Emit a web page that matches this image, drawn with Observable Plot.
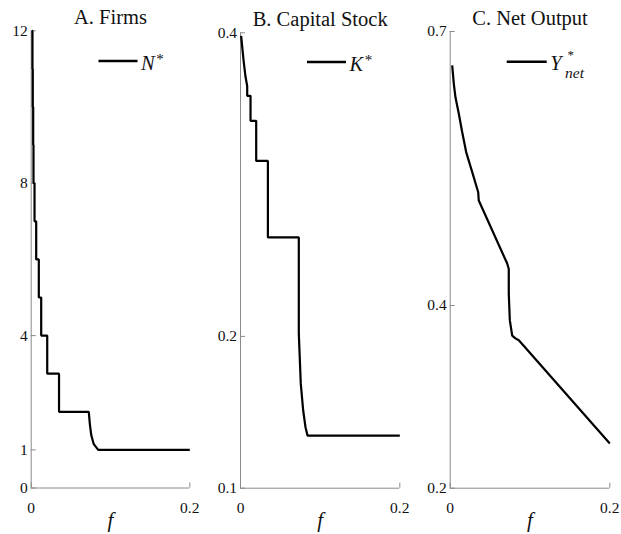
<!DOCTYPE html>
<html><head><meta charset="utf-8">
<script src="https://cdn.jsdelivr.net/npm/d3@7"></script>
<script src="https://cdn.jsdelivr.net/npm/@observablehq/plot@0.6"></script>
<style>
html,body{margin:0;padding:0;background:#fff;}
#chart{position:relative;width:621px;height:534px;overflow:hidden;background:#fff;}
#chart > svg{position:absolute;top:0;}
</style></head><body><div id="chart"></div>
<script>
// ---- data ----
const xDomain = [0, 0.2];
const xTicks = [0, 0.2];

const titles = ["A. Firms", "B. Capital Stock", "C. Net Output"];

// Panel A: firms N*
const fA = [0.0008, 0.0016, 0.0016, 0.0020, 0.0020, 0.0025, 0.0025, 0.0029, 0.0029, 0.0042, 0.0042, 0.0063, 0.0063, 0.0096, 0.0096, 0.0126, 0.0126, 0.0202, 0.0202, 0.0351, 0.0351, 0.0726, 0.0739, 0.0757, 0.0789, 0.0845, 0.2];
const nA = [12, 12, 11, 11, 10, 10, 9, 9, 8, 8, 7, 7, 6, 6, 5, 5, 4, 4, 3, 3, 2, 2, 1.69, 1.39, 1.15, 1.0, 1.0];
const yDomainA = [0, 12];
const yTicksA = [0, 1, 4, 8, 12];

// Panel B: capital stock K*
const fB = [0.0008, 0.0038, 0.0063, 0.0084, 0.0084, 0.0126, 0.0126, 0.0197, 0.0197, 0.0344, 0.0344, 0.0732, 0.0732, 0.0757, 0.0787, 0.0816, 0.0841, 0.2];
const kB = [0.398, 0.382, 0.371, 0.365, 0.3585, 0.3585, 0.342, 0.342, 0.3156, 0.3156, 0.2652, 0.2652, 0.2018, 0.1687, 0.1512, 0.1402, 0.1347, 0.1347];
const yDomainB = [0.1, 0.4];
const yTicksB = [0.1, 0.2, 0.4];

// Panel C: net output Y*_net
const fC = [0.0025, 0.0045, 0.0066, 0.0108, 0.0150, 0.0200, 0.0276, 0.0351, 0.0358, 0.0714, 0.0734, 0.0734, 0.0747, 0.0777, 0.0818, 0.0860, 0.2];
const yC = [0.663, 0.643, 0.628, 0.610, 0.590, 0.568, 0.546, 0.524, 0.515, 0.446, 0.440, 0.413, 0.384, 0.367, 0.364, 0.362, 0.249];
const yDomainC = [0.2, 0.7];
const yTicksC = [0.2, 0.4, 0.7];

// ---- font: pick an installed serif face if there is one ----
function hasFont(name) {
  const ctx = document.createElement("canvas").getContext("2d");
  const s = "AaBbCcFfmmNKY0.2 Stock Output";
  for (const base of ["monospace", "sans-serif", "serif"]) {
    ctx.font = "40px " + base;
    const w0 = ctx.measureText(s).width;
    ctx.font = `40px "${name}", ${base}`;
    if (Math.abs(ctx.measureText(s).width - w0) > 0.5) return true;
  }
  return false;
}
const serifCandidates = ["Liberation Serif", "DejaVu Serif", "Noto Serif", "Tinos", "Times New Roman", "FreeSerif", "Nimbus Roman", "Nimbus Roman No9 L", "Georgia"];
const found = serifCandidates.find(hasFont);
const FONT = found ? `"${found}", serif` : "serif";

const AXIS = "#8a8a8a";
const H = 534;
const chart = document.getElementById("chart");

function toRows(fs, vs) { return fs.map((f, i) => ({f, v: vs[i]})); }

function panel({left, width, mL, mR, mT, mB, rows, yDomain, yTicks, title}) {
  const pw = width - mL - mR, ph = H - mT - mB;
  const svg = Plot.plot({
    width, height: H,
    marginLeft: mL, marginRight: mR, marginTop: mT, marginBottom: mB,
    style: {fontFamily: FONT, fontSize: "15.5px", color: "#111", background: "transparent", overflow: "visible"},
    x: {domain: xDomain, ticks: xTicks, tickFormat: d => String(d), tickSize: 0, tickPadding: 14, label: null},
    y: {domain: yDomain, ticks: yTicks, tickFormat: d => String(d), tickSize: 0, tickPadding: 3.5, label: null},
    marks: [
      Plot.ruleX([xDomain[0]], {stroke: AXIS, strokeWidth: 1}),
      Plot.ruleY([yDomain[0]], {stroke: AXIS, strokeWidth: 1}),
      Plot.tickY(yTicks, {y: d => d, stroke: AXIS, strokeWidth: 1, insetRight: pw - 5}),
      Plot.tickX(xTicks, {x: d => d, stroke: AXIS, strokeWidth: 1, insetTop: ph - 5}),
      Plot.line(rows, {x: "f", y: "v", stroke: "#000", strokeWidth: 2.2, strokeLinejoin: "miter", strokeLinecap: "butt"}),
      Plot.text([title], {text: d => d, frameAnchor: "top", dy: -7, lineAnchor: "bottom", fontSize: 20.5, fill: "#111"}),
      Plot.text(["f"], {text: d => d, frameAnchor: "bottom", dy: 32, lineAnchor: "middle", fontSize: 21, fontStyle: "italic", fill: "#111"})
    ]
  });
  svg.style.left = left + "px";
  chart.appendChild(svg);
}

panel({left: 0, width: 205, mL: 30.7, mR: 15.7, mT: 30.3, mB: H - 487.5, rows: toRows(fA, nA), yDomain: yDomainA, yTicks: yTicksA, title: titles[0]});
panel({left: 205, width: 210, mL: 35, mR: 15.7, mT: 32.3, mB: H - 487.7, rows: toRows(fB, kB), yDomain: yDomainB, yTicks: yTicksB, title: titles[1]});
panel({left: 415, width: 206, mL: 34.7, mR: 11.7, mT: 31, mB: H - 487.7, rows: toRows(fC, yC), yDomain: yDomainC, yTicks: yTicksC, title: titles[2]});

// ---- legends (overlay) ----
const ov = d3.select(chart).append("svg")
  .attr("width", 621).attr("height", H)
  .style("left", "0px").style("pointer-events", "none")
  .style("font-family", FONT);

function legend(x1, x2, y, sym, withStar) {
  ov.append("line").attr("x1", x1).attr("x2", x2).attr("y1", y).attr("y2", y)
    .attr("stroke", "#000").attr("stroke-width", 2.4);
  const t = ov.append("text").attr("x", x2 + 3.5).attr("y", y + 8.5)
    .attr("font-size", 20.5).attr("fill", "#111");
  t.append("tspan").attr("font-style", "italic").text(sym);
  if (withStar) t.append("tspan").attr("font-size", 15).attr("dy", -6).attr("dx", 1.5).text("*");
}
legend(98.5, 137.5, 61, "N", true);
legend(307, 346, 62, "K", true);
legend(506.7, 546.7, 61.7, "Y", false);
ov.append("text").attr("x", 567.5).attr("y", 59).attr("font-size", 13)
  .attr("fill", "#111").text("*");
ov.append("text").attr("x", 565).attr("y", 77.5).attr("font-size", 15.5)
  .attr("font-style", "italic").attr("fill", "#111").text("net");
</script></body></html>
